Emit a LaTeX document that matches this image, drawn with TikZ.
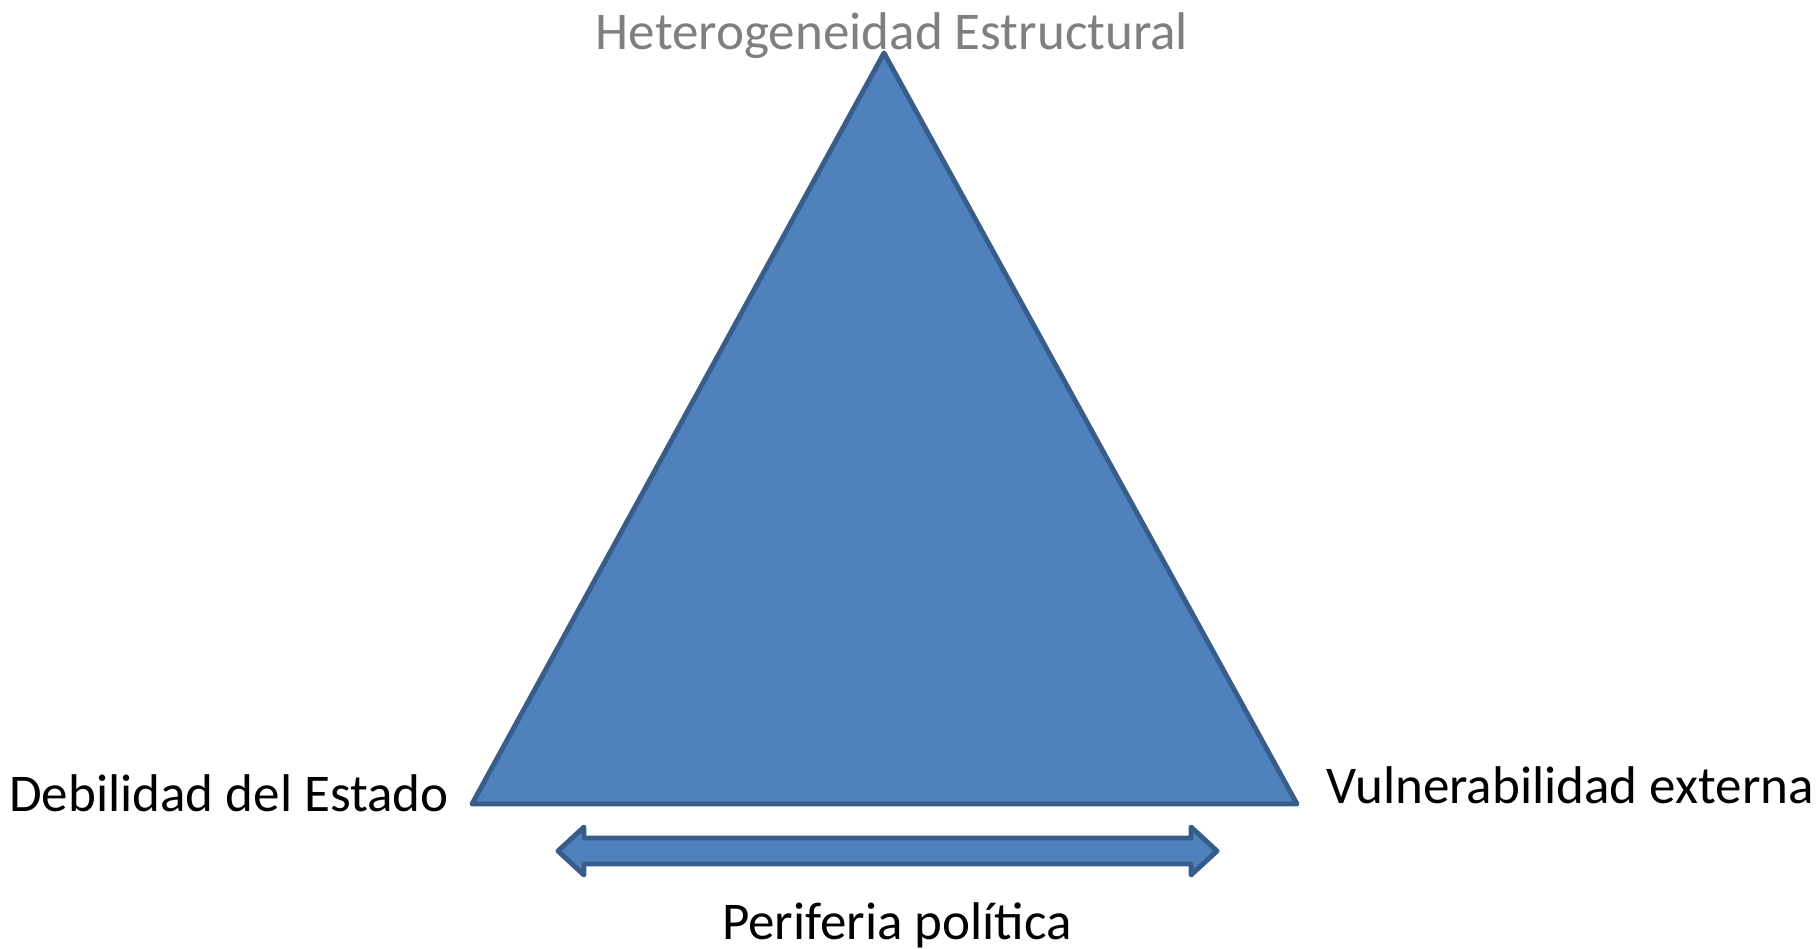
\documentclass[tikz,border=0pt]{standalone}
\usepackage{fontspec}
\setmainfont{Carlito}
\definecolor{fillblue}{HTML}{4F81BD}
\definecolor{lineblue}{HTML}{385D8A}
\definecolor{labelgray}{HTML}{7F7F7F}
\tikzset{
    corner/.style={font=\fontsize{30.2}{36}\selectfont, inner sep=0pt},
    shapeblue/.style={fill=fillblue, draw=lineblue, line width=2.8pt, line join=round}
}
\begin{document}
\begin{tikzpicture}[x=0.02cm, y=-0.02cm]

    \useasboundingbox (0,0) rectangle (1819,949);

    % triangle corners
    \coordinate (top) at (884,53);
    \coordinate (left) at (472,804);
    \coordinate (right) at (1297,804);

    \def\periferiaarrow{(558,851) -- (584,827) -- (584,838) -- (1191,838) -- (1191,827)
        -- (1217,851) -- (1191,875) -- (1191,864) -- (584,864) -- (584,875) -- cycle}

    %draw triangle:
    \draw[shapeblue] (top) -- (right) -- (left) -- cycle;

    %draw arrow:
    \draw[shapeblue] \periferiaarrow;

    %labels:
    \node[corner, text=labelgray, anchor=base] (hetero) at (892,50) {Heterogeneidad Estructural};
    \node[corner, anchor=base west] (debilidad) at (9,811) {Debilidad del Estado};
    \node[corner, anchor=base west] (vulner) at (1326,803) {Vulnerabilidad externa};
    \node[corner, anchor=base] (periferia) at (897,939) {Periferia política};

\end{tikzpicture}
\end{document}
